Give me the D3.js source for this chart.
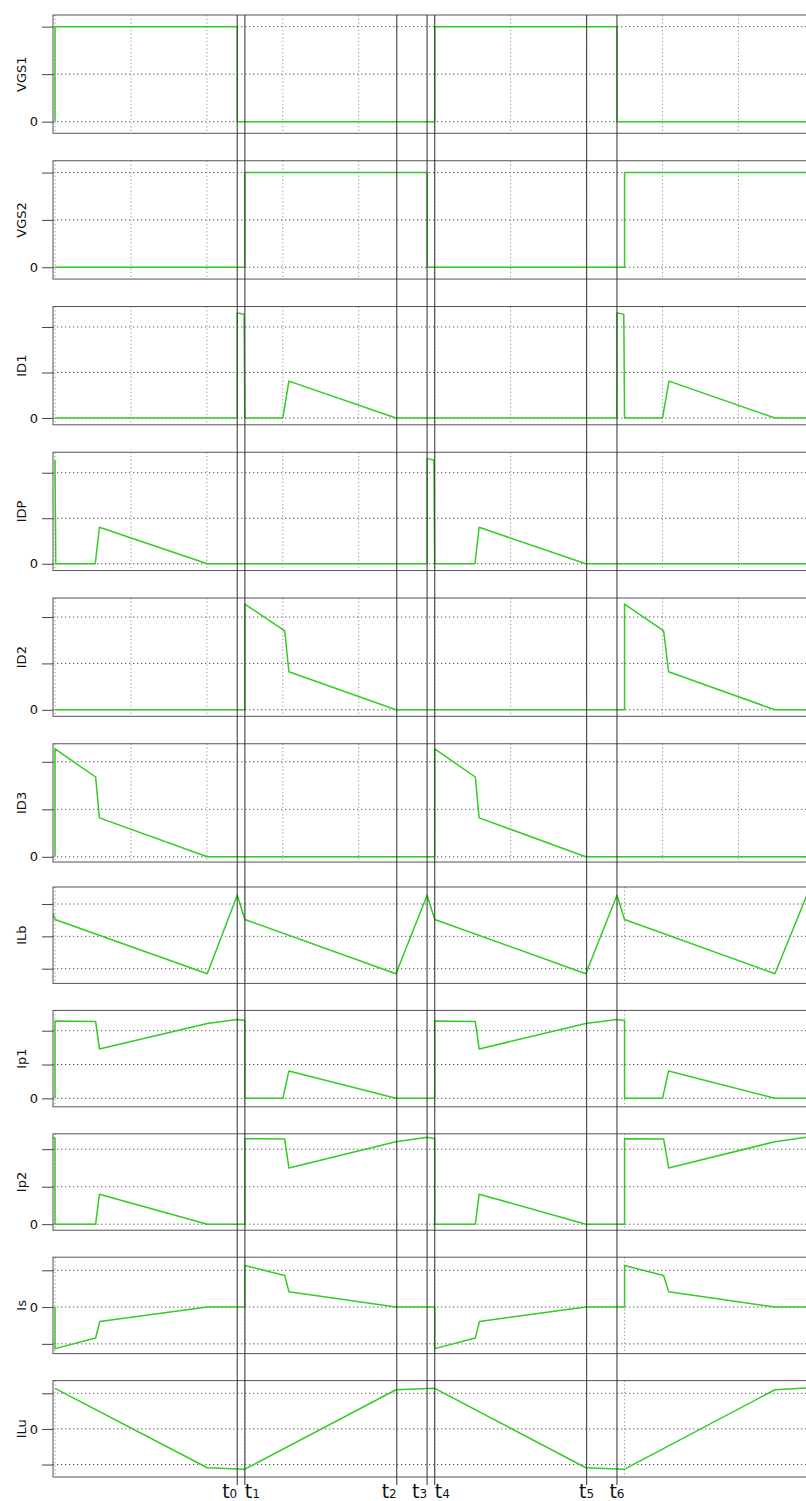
<!DOCTYPE html>
<html>
<head>
<meta charset="utf-8">
<script src="https://d3js.org/d3.v7.min.js"></script>
<style>
body { margin: 0; background: white; }
text { font-family: "DejaVu Sans", Verdana, sans-serif; }
.frame { fill: none; stroke: #555; stroke-width: 1; }
.hgrid { stroke: #555; stroke-dasharray: 1.3, 2.7; }
.vgrid { stroke: #999; stroke-dasharray: 1.3, 2.4; }
.wave { fill: none; stroke: #33cc22; stroke-width: 1.5; stroke-linejoin: round; }
.mark { stroke: #333; stroke-opacity: 0.85; stroke-width: 1.2; }
</style>
</head>
<body>
<div id="chart"></div>
<script>
// signal names, top to bottom
var names = ["VGS1", "VGS2", "ID1", "IDP", "ID2", "ID3", "ILb", "Ip1", "Ip2", "Is", "ILu"];

// waveforms as [time in us, value]
var vgs1 = [[0,0],[0,2],[4.8,2],[4.8,0],[10,0],[10,2],[14.8,2],[14.8,0],[20,0]];
var vgs2 = [[0,0],[5,0],[5,2],[9.8,2],[9.8,0],[15,0],[15,2],[20,2]];
var id1 = [[0,0],[4.8,0],[4.8,2.31],[4.98,2.28],[5,0],[6.0,0],[6.16,0.81],[8.98,0],
  [14.8,0],[14.8,2.31],[14.98,2.28],[15,0],[16.0,0],[16.17,0.81],[18.96,0],[20,0]];
var idp = [[0,2.28],[0.02,0],[1.06,0],[1.17,0.80],[4.01,0],[9.8,0],[9.8,2.31],[9.98,2.28],
  [10,0],[11.06,0],[11.17,0.80],[13.98,0],[20,0]];
var id2 = [[0,0],[5,0],[5,2.28],[6.05,1.70],[6.16,0.82],[8.98,0],[15,0],[15,2.28],
  [16.03,1.70],[16.16,0.82],[18.96,0],[20,0]];
var id3 = [[0,0],[0,2.27],[1.07,1.68],[1.17,0.82],[4.01,0],[10,0],[10,2.27],[11.07,1.68],
  [11.17,0.82],[13.98,0],[20,0]];
var ilb = [[-0.05,0.70],[0,0.52],[4.01,-1.155],[4.8,1.27],[5.0,0.52],[8.98,-1.155],[9.8,1.27],
  [10,0.52],[13.98,-1.155],[14.8,1.27],[15,0.52],[18.96,-1.155],[19.8,1.27],[20,0.52]];
var ip1 = [[0,0],[0,2.29],[1.07,2.27],[1.17,1.46],[4.01,2.21],[4.8,2.33],[5,2.30],[5,0],
  [6.0,0],[6.16,0.81],[8.98,0],[10,0],[10,2.29],[11.07,2.27],[11.17,1.46],[13.98,2.21],
  [14.8,2.33],[15,2.30],[15,0],[16.0,0],[16.16,0.81],[18.96,0],[20,0]];
var ip2 = [[-0.05,2.29],[0,2.29],[0,0],[1.07,0],[1.17,0.80],[4.01,0],[5,0],[5,2.28],
  [6.05,2.27],[6.16,1.50],[8.98,2.20],[9.8,2.32],[10,2.28],[10,0],[11.07,0],[11.17,0.80],
  [13.98,0],[15,0],[15,2.28],[16.03,2.27],[16.16,1.50],[18.96,2.20],[19.8,2.32],[20,2.28]];
var is = [[0,0],[0,-1.13],[1.07,-0.84],[1.18,-0.39],[4.01,0],[5,0],[5,1.13],[6.05,0.86],
  [6.16,0.42],[8.98,0],[10,0],[10,-1.13],[11.07,-0.84],[11.18,-0.39],[13.98,0],[15,0],
  [15,1.13],[16.03,0.86],[16.16,0.42],[18.96,0],[20,0]];
var ilu = [[0,1.14],[4.01,-1.09],[5,-1.13],[8.98,1.10],[10,1.14],[13.98,-1.09],[15,-1.13],
  [18.96,1.10],[20,1.16]];
var series = [vgs1, vgs2, id1, idp, id2, id3, ilb, ip1, ip2, is, ilu];

// value range shown in each panel, and its grid levels
var yRanges = [[-0.245,2.245],[-0.25,2.25],[-0.15,2.45],[-0.15,2.45],[-0.14,2.41],[-0.11,2.38],
  [-1.455,1.525],[-0.25,2.6],[-0.16,2.41],[-1.265,1.357],[-1.35,1.356]];
var yTicks = [[0,1,2],[0,1,2],[0,1,2],[0,1,2],[0,1,2],[0,1,2],[-1,0,1],[0,1,2],[0,1,2],[-1,0,1],[-1,0,1]];
var noZeroLabel = ["ILb"];

// time grid (us)
var gridFine = [0,2,4,6,8,10,12,14,16,18,20];
var gridCoarse = [0,5,10,15,20];

// instants marked across all panels
var markTimes = [4.8, 5.0, 9.0, 9.8, 10.0, 14.0, 14.8];
var markNums = ["0","1","2","3","4","5","6"];
var markAnchor = ["end","start","end","end","start","middle","middle"];

var svg = d3.select("#chart").append("svg")
  .attr("width", 806)
  .attr("height", 1501);

var x = d3.scaleLinear().domain([0, 20]).range([55, 814.4]);
var left = 53, right = 818;

names.forEach(function(name, i) {
  var big = i < 6;
  var top = big ? 15 + i * 145.75 : 887 + (i - 6) * 123.4;
  var h = big ? 118.3 : 96.4;
  var y = d3.scaleLinear().domain(yRanges[i]).range([top + h, top]);
  var g = svg.append("g");

  g.append("clipPath").attr("id", "clip" + i)
    .append("rect")
    .attr("x", left).attr("y", top)
    .attr("width", right - left).attr("height", h);

  // horizontal grid
  g.selectAll(".hgrid").data(yTicks[i]).enter()
    .append("line")
    .attr("class", "hgrid")
    .attr("x1", left).attr("x2", right)
    .attr("y1", function(d) { return y(d); })
    .attr("y2", function(d) { return y(d); });

  // vertical grid
  g.selectAll(".vgrid").data(big ? gridFine : gridCoarse).enter()
    .append("line")
    .attr("class", "vgrid")
    .attr("x1", function(d) { return x(d); })
    .attr("x2", function(d) { return x(d); })
    .attr("y1", top).attr("y2", top + h);

  // y axis ticks
  var axis = g.append("g")
    .attr("transform", "translate(" + left + ",0)")
    .call(d3.axisLeft(y)
      .tickValues(yTicks[i])
      .tickSize(11)
      .tickPadding(4)
      .tickFormat(function(d) {
        return (d === 0 && noZeroLabel.indexOf(name) < 0) ? "0" : "";
      }));
  axis.select(".domain").remove();
  axis.selectAll(".tick line").attr("stroke", "#444");
  axis.selectAll("text")
    .style("font-family", "'DejaVu Sans', Verdana, sans-serif")
    .style("font-size", "13px")
    .attr("fill", "#111");

  // waveform
  g.append("path")
    .datum(series[i])
    .attr("class", "wave")
    .attr("clip-path", "url(#clip" + i + ")")
    .attr("d", d3.line()
      .x(function(d) { return x(d[0]); })
      .y(function(d) { return y(d[1]); }));

  g.append("rect")
    .attr("class", "frame")
    .attr("x", left).attr("y", top)
    .attr("width", right - left).attr("height", h);

  // panel label
  g.append("text")
    .attr("transform", "translate(26," + (top + h / 2) + ") rotate(-90)")
    .style("text-anchor", "middle")
    .style("font-size", "13px")
    .attr("fill", "#111")
    .text(name);
});

// marker lines over all panels
svg.selectAll(".mark").data(markTimes).enter()
  .append("line")
  .attr("class", "mark")
  .attr("x1", function(d) { return x(d); })
  .attr("x2", function(d) { return x(d); })
  .attr("y1", 15).attr("y2", 1485);

var labels = svg.selectAll(".tlabel").data(markTimes).enter()
  .append("text")
  .attr("class", "tlabel")
  .attr("x", function(d) { return x(d); })
  .attr("y", 1498)
  .style("text-anchor", function(d, i) { return markAnchor[i]; })
  .attr("fill", "#111");
labels.append("tspan").style("font-size", "19px").text("t");
labels.append("tspan").style("font-size", "12px").text(function(d, i) { return markNums[i]; });
</script>
</body>
</html>
